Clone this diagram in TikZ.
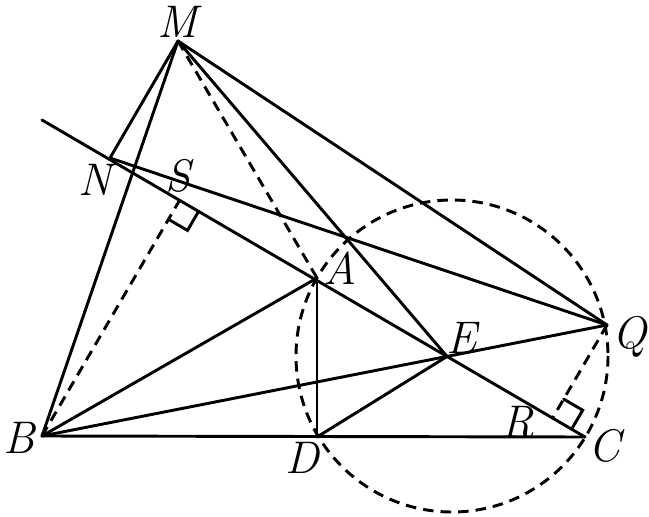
\documentclass[tikz,border=0pt]{standalone}
\usepackage{tikz}
\usetikzlibrary{calc}
\tikzset{>=latex}
\tikzstyle{seg} = [line width=2.5pt, line cap=round]
\tikzstyle{aux} = [line width=2.5pt, dash pattern=on 9pt off 6pt]
\tikzstyle{lbl} = [font=\fontsize{39}{42}\selectfont\itshape, inner sep=0pt]

\begin{document}
\begin{tikzpicture}[x=0.03cm, y=-0.03cm]
\useasboundingbox (0,0) rectangle (649,517);

% points
\coordinate (M) at (178,41);
\coordinate (B) at (42,436);
\coordinate (C) at (585,437);
\coordinate (D) at (317,437);
\coordinate (Q) at (607,325);
\coordinate (P) at (42,120);
\coordinate (A) at (317,278);
\coordinate (N) at (110,158);
\coordinate (O) at (452,356);
\coordinate (E) at (intersection of P--C and B--Q);
\coordinate (S) at ($(P)!(B)!(C)$);
\coordinate (R) at ($(P)!(Q)!(C)$);

% circle
\draw [aux] (O) circle [radius=156];

% lines
\draw [seg] (P) -- (C);
\draw [seg] (M) -- (N);
\draw [seg] (M) -- (B);
\draw [seg] (M) -- (Q);
\draw [seg] (M) -- (E);
\draw [seg] (N) -- (Q);
\draw [seg] (B) -- (C);
\draw [seg] (B) -- (A);
\draw [seg] (B) -- (Q);
\draw [seg] (A) -- (D);
\draw [seg] (D) -- (E);
\draw [aux] (M) -- (A);
\draw [aux] (B) -- (S);
\draw [aux] (Q) -- (R);

% right angles
\coordinate (s1) at ($(S)!0.66cm!(B)$);
\coordinate (s2) at ($(S)!0.66cm!(C)$);
\draw [seg] (s1) -- ($(s1)+(s2)-(S)$) -- (s2);
\coordinate (r1) at ($(R)!0.66cm!(Q)$);
\coordinate (r2) at ($(R)!0.66cm!(C)$);
\draw [seg] (r1) -- ($(r1)+(r2)-(R)$) -- (r2);

% labels
\foreach \p/\x/\y in {M/178/22, N/95/180, S/178/176, A/340/268, E/462/338,
  Q/630/337, R/518/422, C/604/446, D/302/458, B/19/438}
  \node [lbl] (l\p) at (\x,\y) {\p};

\end{tikzpicture}
\end{document}
